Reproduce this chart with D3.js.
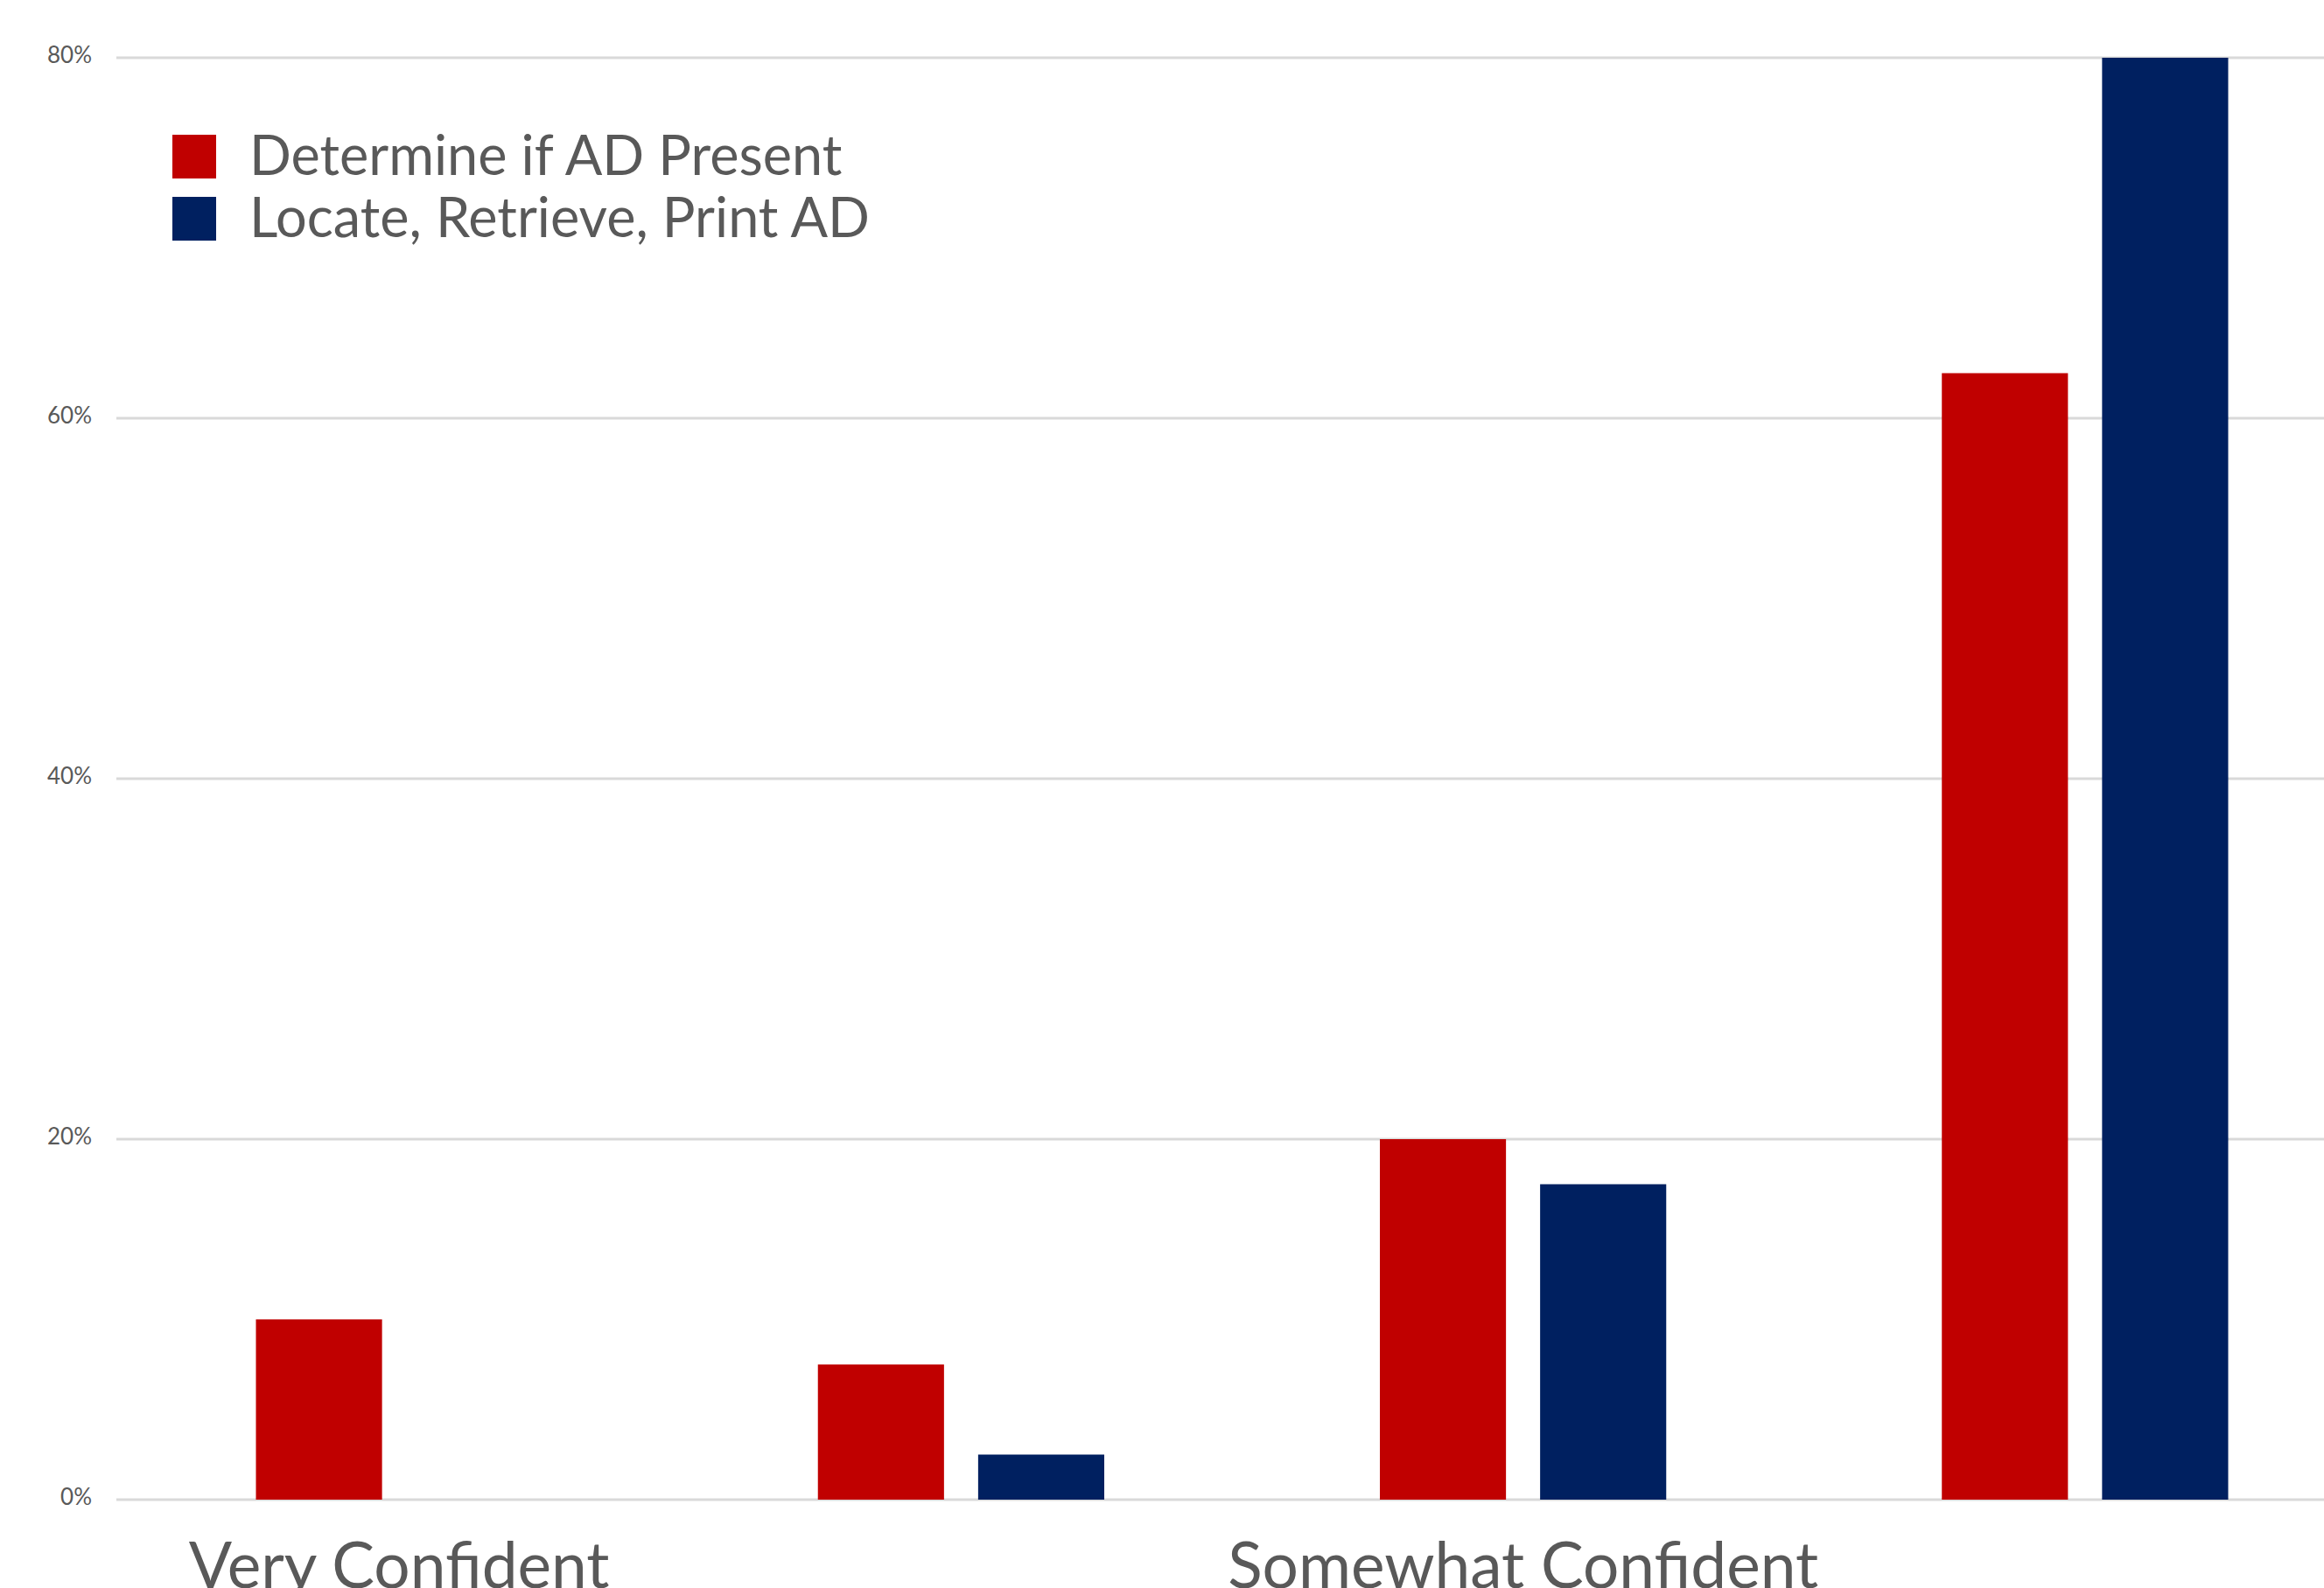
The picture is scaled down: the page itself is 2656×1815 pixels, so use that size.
<!DOCTYPE html>
<html>
<head>
<meta charset="utf-8">
<script src="https://cdn.jsdelivr.net/npm/d3@7"></script>
<style>
  html, body { margin: 0; padding: 0; background: #fff; }
  svg { display: block; }
</style>
</head>
<body>
<svg id="chart"></svg>
<script>
// === data === //
var categories = ["Very Confident", "Confident", "Somewhat Confident", "Not Confident"]
var seriesNames = ["Determine if AD Present", "Locate, Retrieve, Print AD"]
var determineVals = [0.10, 0.075, 0.20, 0.625]
var locateVals = [0, 0.025, 0.175, 0.80]
var yTicks = [0, 0.2, 0.4, 0.6, 0.8]
var colors = ["#C00000", "#002060"]

// === canvas === //
var width = 2656
var height = 1815

var plotLeft = 133
var plotRight = 2704   // plot runs a bit past the right edge, like the source
var plotTop = 66
var plotBottom = 1714

var textCol = "#595959"
var font = "Lato, 'Open Sans', sans-serif"

var svg = d3.select("#chart").attr("width", width).attr("height", height)

var rows = categories.map(function(c, i) {
  return { cat: c, vals: [determineVals[i], locateVals[i]] }
})

var x0 = d3.scaleBand().domain(categories).range([135, plotRight]).padding(0)
var x1 = d3.scaleBand().domain([0, 1]).range([0, x0.bandwidth()])
  .paddingInner(0.213).paddingOuter(0.86)
var y = d3.scaleLinear().domain([0, 0.8]).range([plotBottom, plotTop])

// gridlines
svg.append("g")
  .selectAll("line")
  .data(yTicks)
  .join("line")
  .attr("x1", plotLeft)
  .attr("x2", width)
  .attr("y1", function(d) { return y(d) })
  .attr("y2", function(d) { return y(d) })
  .attr("stroke", "#d9d9d9")
  .attr("stroke-width", 3)

// y axis labels
var yAxis = d3.axisLeft(y).tickValues(yTicks).tickFormat(d3.format(".0%")).tickSize(0).tickPadding(0)
svg.append("g")
  .attr("transform", "translate(105,-3)")
  .call(yAxis)
  .call(function(g) { g.select(".domain").remove() })
  .call(function(g) {
    g.selectAll("text")
      .attr("fill", textCol)
      .style("font-family", font)
      .style("font-size", "26px")
  })

// bars
svg.append("g")
  .selectAll("g")
  .data(rows)
  .join("g")
  .attr("transform", function(d) { return "translate(" + x0(d.cat) + ",0)" })
  .selectAll("rect")
  .data(function(d) { return d.vals.map(function(v, i) { return { i: i, v: v } }) })
  .join("rect")
  .filter(function(d) { return d.v > 0 })
  .attr("x", function(d) { return x1(d.i) })
  .attr("width", x1.bandwidth())
  .attr("y", function(d) { return y(d.v) })
  .attr("height", function(d) { return y(0) - y(d.v) })
  .attr("fill", function(d) { return colors[d.i] })

// category labels (only every other one fits, as in the source)
svg.append("g")
  .selectAll("text")
  .data(categories.filter(function(c, i) { return i % 2 === 0 }))
  .join("text")
  .attr("x", function(d) { return x0(d) + x0.bandwidth() / 2 })
  .attr("y", 1815)
  .attr("text-anchor", "middle")
  .attr("fill", textCol)
  .style("font-family", font)
  .style("font-size", "73px")
  .text(function(d) { return d })

// legend
var legend = svg.append("g")
  .selectAll("g")
  .data(seriesNames)
  .join("g")
  .attr("transform", function(d, i) { return "translate(197," + (154 + i * 71) + ")" })

legend.append("rect")
  .attr("width", 50)
  .attr("height", 50)
  .attr("fill", function(d, i) { return colors[i] })

legend.append("text")
  .attr("x", 88)
  .attr("y", 46)
  .attr("fill", textCol)
  .style("font-family", font)
  .style("font-size", "63px")
  .text(function(d) { return d })
</script>
</body>
</html>
